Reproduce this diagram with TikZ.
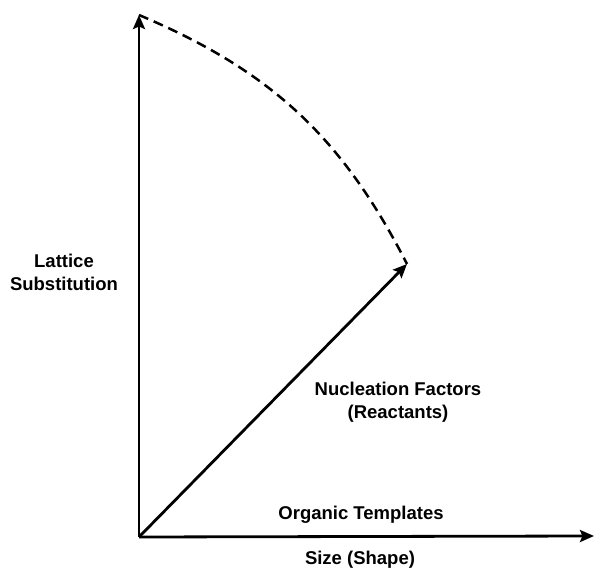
\documentclass[tikz,border=0pt]{standalone}
\usepackage{fontspec}
\setmainfont{Liberation Sans}
\usetikzlibrary{arrows.meta}
\begin{document}
\begin{tikzpicture}[x=1pt,y=1pt,
  axis/.style={line width=2.8pt,-{Stealth[length=14pt,width=12pt,inset=2.5pt]}},
  arcline/.style={line width=2.5pt,dash pattern=on 10pt off 6pt},
  lbl/.style={font=\bfseries\fontsize{18.5}{23}\selectfont,align=center,inner sep=0pt}]
\useasboundingbox (0,0) rectangle (595,568);
\coordinate (O) at (139,31);
\coordinate (T) at (139,553);
\coordinate (R) at (594,32);
\coordinate (D) at (407,304);
\draw[arcline] (T) to[bend left=20] (D);
\draw[axis] (O) -- (T);
\draw[axis] (O) -- (R);
\draw[axis] (O) -- (D);
\node[lbl] (ls) at (64,296) {Lattice\\Substitution};
\node[lbl] (nf) at (398,166) {Nucleation Factors\\(Reactants)};
\node[lbl] (ot) at (361,53) {Organic Templates};
\node[lbl] (ss) at (360,8) {Size (Shape)};
\end{tikzpicture}
\end{document}
